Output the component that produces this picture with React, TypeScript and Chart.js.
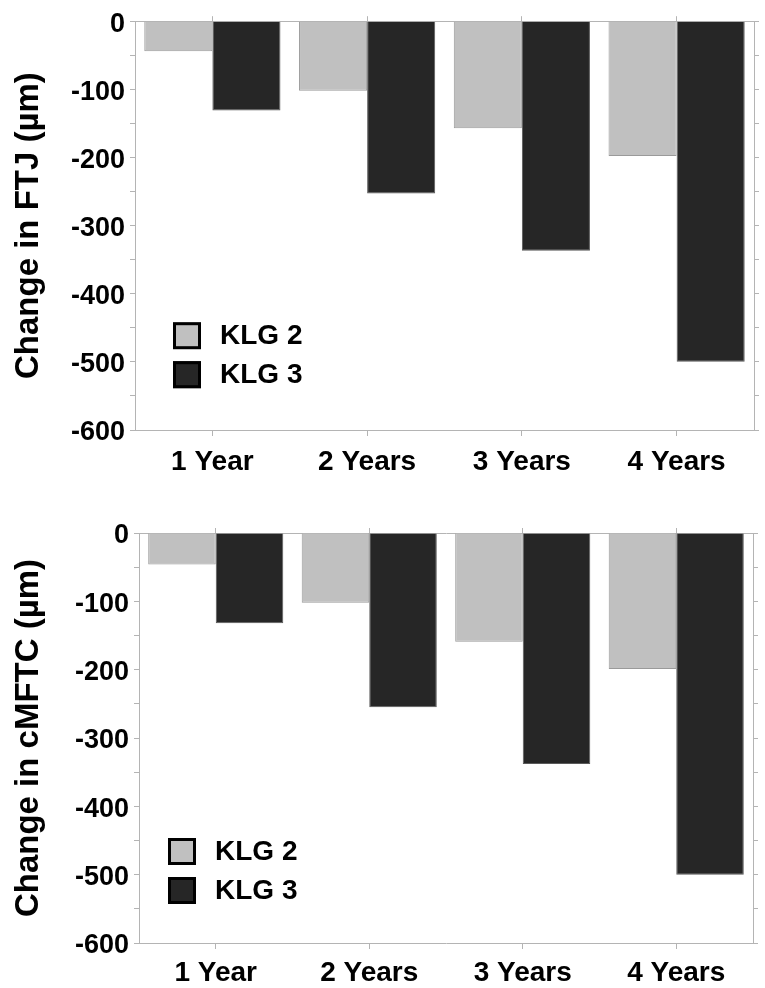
import React, { useEffect, useRef } from "react";
import { Chart, registerables } from "chart.js";

Chart.register(...registerables);

const categories = ["1 Year", "2 Years", "3 Years", "4 Years"];
const seriesNames = ["KLG 2", "KLG 3"];
const ftjKLG2 = [-44, -102, -157, -198];
const ftjKLG3 = [-131, -253, -337, -500];
const cmftcKLG2 = [-46, -102, -159, -199];
const cmftcKLG3 = [-132, -255, -338, -500];
const yMin = -600;
const yMax = 0;
const yStep = 50;
const yLabelStep = 100;

const FONT = '"Liberation Sans", Arial, sans-serif';
const AXIS = "#b4b4b4";

const boxLegend = {
  id: "boxLegend",
  afterDraw(chart: any, _args: any, opts: any) {
    const { ctx, chartArea } = chart;
    const x = chartArea.left + opts.dx;
    const y0 = chartArea.top + opts.dy;
    ctx.save();
    chart.data.datasets.forEach((ds: any, i: number) => {
      const y = y0 + i * 39;
      ctx.fillStyle = ds.backgroundColor;
      ctx.fillRect(x, y, 28, 27);
      ctx.lineWidth = 3;
      ctx.strokeStyle = "#000";
      ctx.strokeRect(x + 1.5, y + 1.5, 25, 24);
      ctx.fillStyle = "#000";
      ctx.font = `bold 28px ${FONT}`;
      ctx.textBaseline = "middle";
      ctx.textAlign = "left";
      ctx.fillText(ds.label, x + 47, y + 14.5);
    });
    ctx.restore();
  },
};

type Props = {
  title: string;
  klg2: number[];
  klg3: number[];
  height: number;
  leftW: number;
  rightW: number;
  topH: number;
  bottomH: number;
  xPad: number;
  legendDx: number;
  legendDy: number;
};

function BarChart(p: Props) {
  const ref = useRef<HTMLCanvasElement>(null);
  useEffect(() => {
    if (!ref.current) return;
    const chart = new Chart(ref.current, {
      type: "bar",
      data: {
        labels: categories,
        datasets: [
          {
            label: seriesNames[0],
            data: p.klg2,
            backgroundColor: "#c0c0c0",
            borderColor: "#9a9a9a",
            borderWidth: 1,
            categoryPercentage: 0.88,
            barPercentage: 1.0,
          },
          {
            label: seriesNames[1],
            data: p.klg3,
            backgroundColor: "#262626",
            borderColor: "#5a5a5a",
            borderWidth: 1,
            categoryPercentage: 0.88,
            barPercentage: 1.0,
          },
        ],
      },
      options: {
        responsive: false,
        maintainAspectRatio: false,
        animation: false,
        layout: { padding: 0 },
        plugins: {
          legend: { display: false },
          tooltip: { enabled: false },
          // @ts-ignore
          boxLegend: { dx: p.legendDx, dy: p.legendDy },
        },
        scales: {
          x: {
            type: "category",
            position: "bottom",
            offset: true,
            grid: {
              display: true,
              drawOnChartArea: false,
              offset: false,
              tickLength: 6,
              color: AXIS,
            },
            border: { color: AXIS },
            ticks: {
              color: "#000",
              font: { family: FONT, size: 28, weight: "bold" },
              padding: p.xPad,
              maxRotation: 0,
              autoSkip: false,
            },
            afterFit: (s: any) => {
              s.height = p.bottomH;
            },
          },
          x2: {
            type: "category",
            position: "top",
            offset: true,
            grid: {
              display: true,
              drawOnChartArea: false,
              offset: false,
              tickLength: 5,
              color: AXIS,
            },
            border: { color: AXIS },
            ticks: { display: false },
            afterFit: (s: any) => {
              s.height = p.topH;
            },
          },
          y: {
            position: "left",
            min: yMin,
            max: yMax,
            grid: { drawOnChartArea: false, tickLength: 5, color: AXIS },
            border: { color: AXIS },
            ticks: {
              stepSize: yStep,
              autoSkip: false,
              color: "#000",
              padding: 5,
              labelOffset: 3,
              font: { family: FONT, size: 27, weight: "bold" },
              callback: (v: any) => (Number(v) % yLabelStep === 0 ? String(v) : ""),
            },
            title: {
              display: true,
              text: p.title,
              color: "#000",
              font: { family: FONT, size: 33, weight: "bold" },
              padding: { top: 9, bottom: 0 },
            },
            afterFit: (s: any) => {
              s.width = p.leftW;
            },
          },
          y2: {
            position: "right",
            min: yMin,
            max: yMax,
            grid: { drawOnChartArea: false, tickLength: 5, color: AXIS },
            border: { color: AXIS },
            ticks: { display: false, stepSize: yStep },
            afterFit: (s: any) => {
              s.width = p.rightW;
            },
          },
        },
      } as any,
      plugins: [boxLegend],
    });
    return () => chart.destroy();
  }, []);
  return (
    <canvas
      ref={ref}
      width={765}
      height={p.height}
      style={{ display: "block", width: 765, height: p.height }}
    />
  );
}

export default function App() {
  return (
    <div
      style={{
        position: "absolute",
        left: 0,
        top: 0,
        width: 765,
        height: 988,
        background: "#fff",
      }}
    >
      <BarChart
        title="Change in FTJ (µm)"
        klg2={ftjKLG2}
        klg3={ftjKLG3}
        height={494}
        leftW={135}
        rightW={11}
        topH={17}
        bottomH={64}
        xPad={9}
        legendDx={38}
        legendDy={301}
      />
      <BarChart
        title="Change in cMFTC (µm)"
        klg2={cmftcKLG2}
        klg3={cmftcKLG3}
        height={494}
        leftW={139}
        rightW={12}
        topH={39}
        bottomH={45}
        xPad={7}
        legendDx={29}
        legendDy={305}
      />
    </div>
  );
}
